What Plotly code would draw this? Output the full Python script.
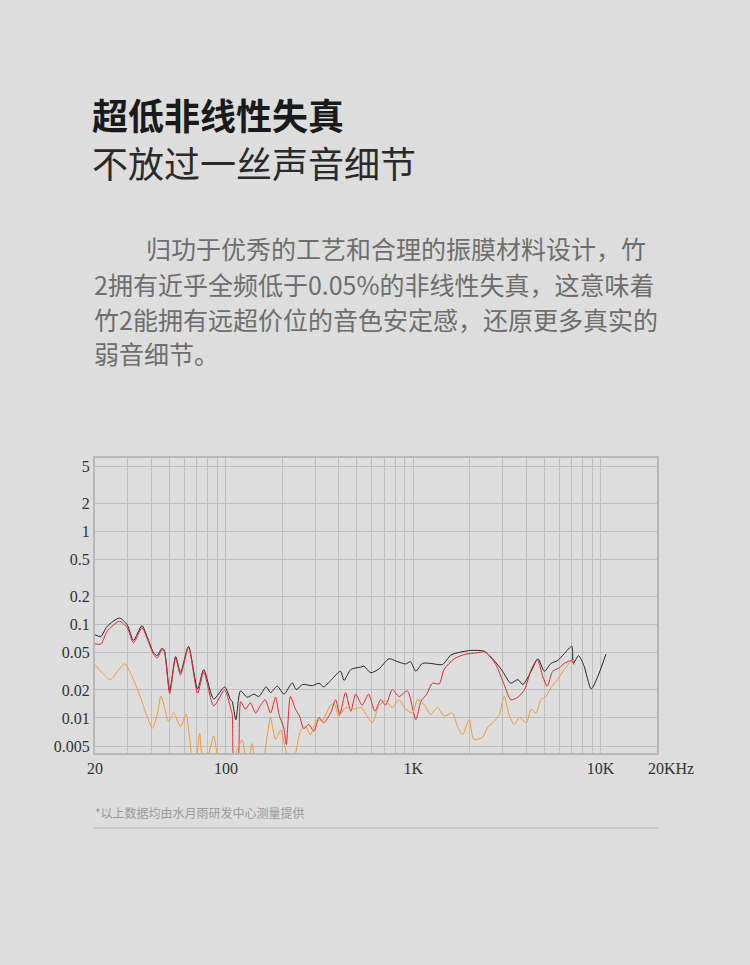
import plotly.graph_objects as go

# 频率 (Hz) / 失真 (%) —— 从原图读取
black_f = [20, 21.5, 23.2, 27, 29.7, 32.1, 35.6, 37.9, 41.1, 42.9,
           45.6, 46.9, 50.1, 53.9, 57.2, 63.1, 70.6, 76.1, 86.1, 98.5,
           105.7, 108, 113, 119.6, 129.8, 141, 149.8, 164, 173, 188,
           204, 226, 237, 257, 289, 314, 333, 366, 409, 427,
           464, 530, 545, 592, 657, 742, 807, 910, 965, 1032,
           1118, 1238, 1431, 1588, 1795, 2024, 2392, 2703, 2996, 3316,
           3617, 3850, 4258, 4628, 5017, 5432, 5895, 6395, 7020, 7150,
           7624, 8146, 8910, 9640, 10680]
black_v = [0.078, 0.075, 0.096, 0.118, 0.100, 0.068, 0.098, 0.075, 0.050, 0.0466,
           0.056, 0.053, 0.0198, 0.0457, 0.0308, 0.0586, 0.0205, 0.033, 0.016, 0.0215,
           0.0157, 0.0150, 0.0096, 0.0195, 0.0167, 0.018, 0.017, 0.0216, 0.0187, 0.0219,
           0.018, 0.0238, 0.0202, 0.0229, 0.0222, 0.0236, 0.0216, 0.0258, 0.0317, 0.0253,
           0.0331, 0.0353, 0.036, 0.0306, 0.0337, 0.0432, 0.0409, 0.038, 0.0403, 0.0317,
           0.0385, 0.0385, 0.0374, 0.0473, 0.051, 0.053, 0.052, 0.0413, 0.0317, 0.0236,
           0.0258, 0.0229, 0.0317, 0.0432, 0.0317, 0.0385, 0.0413, 0.049, 0.0587, 0.0385,
           0.0466, 0.0365, 0.0205, 0.0276, 0.0484]

red_f = [20, 21.5, 23.2, 27, 29.7, 32.1, 35.6, 37.9, 41.1, 42.9,
         45.6, 46.9, 50.1, 53.9, 57.2, 63.1, 70.6, 76.1, 86.1, 98.5,
         105.7, 108, 111, 115, 120, 127, 135, 144, 153, 162,
         173, 184, 192, 204, 210, 221, 235, 247, 260, 277,
         295, 314, 333, 362, 385, 405, 435, 464, 493, 533,
         577, 624, 670, 712, 773, 838, 930, 1032, 1100, 1180,
         1265, 1375, 1460, 1655, 1905, 2190, 2430, 2755, 3055, 3316,
         3617, 3930, 4258, 4590, 4920, 5187, 5547, 6013, 6395, 7020, 7220]
red_v = [0.0626, 0.062, 0.085, 0.109, 0.093, 0.064, 0.093, 0.072, 0.048, 0.044,
         0.054, 0.051, 0.0183, 0.044, 0.029, 0.057, 0.0185, 0.031, 0.0135, 0.020,
         0.013, 0.011, 0.003, 0.003, 0.015, 0.0124, 0.0145, 0.0113, 0.0137, 0.0157,
         0.0113, 0.0167, 0.0109, 0.0077, 0.0052, 0.017, 0.0124, 0.0105, 0.0077, 0.0085,
         0.0072, 0.0101, 0.0089, 0.0113, 0.0157, 0.0109, 0.0187, 0.0118, 0.018, 0.0137,
         0.018, 0.0118, 0.0157, 0.0137, 0.0202, 0.017, 0.0195, 0.0096, 0.0152, 0.018,
         0.0236, 0.0232, 0.0331, 0.0432, 0.0484, 0.050, 0.051, 0.0374, 0.0229, 0.0157,
         0.0167, 0.0202, 0.0331, 0.0422, 0.0276, 0.0219, 0.0317, 0.0345, 0.0385, 0.0413, 0.0374]

orange_f = [20, 22, 24.1, 26.5, 28.8, 31, 34.9, 37.5, 40.5, 43,
            45, 47, 49.3, 52.6, 57.2, 61.3, 64, 67, 70, 72.4,
            75, 80, 86, 90, 95, 105, 115, 122, 130, 138,
            145, 155, 166, 173, 184, 196, 208, 226, 250, 266,
            282, 307, 327, 355, 377, 400, 435, 473, 530, 553,
            604, 657, 712, 773, 838, 910, 990, 1054, 1150, 1238,
            1347, 1460, 1620, 1722, 1835, 1985, 2108, 2343, 2482, 2703,
            2882, 3055, 3245, 3460, 3683, 4010, 4258, 4520, 4800, 5100,
            5432, 5895, 6395, 6930, 7220]
orange_v = [0.0372, 0.030, 0.0258, 0.032, 0.0382, 0.030, 0.017, 0.011, 0.0078, 0.011,
            0.0171, 0.013, 0.0092, 0.0113, 0.0081, 0.011, 0.006, 0.003, 0.004, 0.0069,
            0.004, 0.004, 0.0064, 0.004, 0.003, 0.003, 0.0046, 0.0058, 0.003, 0.0053,
            0.003, 0.003, 0.0064, 0.0101, 0.0059, 0.0074, 0.0046, 0.003, 0.0072, 0.0081,
            0.0066, 0.0096, 0.0093, 0.0129, 0.0145, 0.0105, 0.0129, 0.0124, 0.0129, 0.0113,
            0.0089, 0.0137, 0.0152, 0.0129, 0.0157, 0.0124, 0.0113, 0.0157, 0.0137, 0.0109,
            0.013, 0.0105, 0.0113, 0.0081, 0.0066, 0.0096, 0.0059, 0.0062, 0.0078, 0.0092,
            0.0109, 0.017, 0.0109, 0.0085, 0.0101, 0.0089, 0.0124, 0.0113, 0.0157, 0.017,
            0.0212, 0.0258, 0.0331, 0.0403, 0.0413]

x_ticks = [20, 100, 1000, 10000]
x_labels = ["20", "100", "1K", "10K"]
x_minor = [30, 40, 50, 60, 70, 80, 90,
           200, 300, 400, 500, 600, 700, 800, 900,
           2000, 3000, 4000, 5000, 6000, 7000, 8000, 9000]
y_ticks = [5, 2, 1, 0.5, 0.2, 0.1, 0.05, 0.02, 0.01, 0.005]
y_labels = ["5", "2", "1", "0.5", "0.2", "0.1", "0.05", "0.02", "0.01", "0.005"]

title = "超低非线性失真"
subtitle = "不放过一丝声音细节"
body = ["归功于优秀的工艺和合理的振膜材料设计，竹",
        "2拥有近乎全频低于0.05%的非线性失真，这意味着",
        "竹2能拥有远超价位的音色安定感，还原更多真实的",
        "弱音细节。"]
note = "*以上数据均由水月雨研发中心测量提供"

W, H = 750, 965
BG = "#dcdddc"
CJK = "Noto Sans CJK SC"
SERIF = "Liberation Serif"


def px(x):
    return x / W


def py(y):
    return 1 - y / H


fig = go.Figure()
fig.add_trace(go.Scatter(x=black_f, y=black_v, mode="lines",
                         line=dict(color="#262626", width=1, shape="spline", smoothing=0.7)))
fig.add_trace(go.Scatter(x=red_f, y=red_v, mode="lines",
                         line=dict(color="#e52a33", width=1, shape="spline", smoothing=0.7)))
fig.add_trace(go.Scatter(x=orange_f, y=orange_v, mode="lines",
                         line=dict(color="#f29a38", width=1, shape="spline", smoothing=0.7)))

fig.update_xaxes(type="log", range=[1.30103, 4.30103], domain=[px(95), px(657)],
                 tickmode="array", tickvals=x_ticks, ticktext=x_labels, automargin=False,
                 showgrid=True, gridcolor="#bebebe", gridwidth=1,
                 minor=dict(tickmode="array", tickvals=x_minor, showgrid=True,
                            gridcolor="#bebebe", gridwidth=1, ticks=""),
                 showline=True, mirror=True, linecolor="#b8b8b8", linewidth=2,
                 ticks="", zeroline=False, tickfont=dict(family=SERIF, size=16, color="#333333"))
fig.update_yaxes(type="log", range=[-2.376, 0.790], domain=[py(753), py(458)],
                 tickmode="array", tickvals=y_ticks, ticktext=y_labels, automargin=False,
                 showgrid=True, gridcolor="#bebebe", gridwidth=1,
                 showline=True, mirror=True, linecolor="#b8b8b8", linewidth=2,
                 ticks="", zeroline=False, tickfont=dict(family=SERIF, size=16, color="#333333"))

ann = [
    dict(x=px(90), y=py(114), text="<b>" + title + "</b>", xanchor="left", yanchor="middle",
         font=dict(family=CJK, size=36, color="#1a1a1a")),
    dict(x=px(90), y=py(162), text=subtitle, xanchor="left", yanchor="middle",
         font=dict(family=CJK, size=36, color="#2a2a2a")),
    dict(x=px(671), y=py(768), text="20KHz", xanchor="center", yanchor="middle",
         font=dict(family=SERIF, size=16, color="#333333")),
    dict(x=px(93), y=py(812), text=note, xanchor="left", yanchor="middle",
         font=dict(family=CJK, size=12, color="#9a9a9a")),
]
body_x = [144, 92, 92, 92]
body_y = [248, 284, 319, 353]
for txt, bx, by in zip(body, body_x, body_y):
    ann.append(dict(x=px(bx), y=py(by), text=txt, xanchor="left", yanchor="middle",
                    font=dict(family=CJK, size=25, color="#6e6e6e")))
for a in ann:
    a.update(xref="paper", yref="paper", showarrow=False)

fig.update_layout(
    width=W, height=H, margin=dict(l=0, r=0, t=0, b=0, autoexpand=False),
    paper_bgcolor=BG, plot_bgcolor=BG, showlegend=False,
    annotations=ann,
    shapes=[dict(type="line", xref="paper", yref="paper", x0=px(94), x1=px(658),
                 y0=py(828), y1=py(828), line=dict(color="#c6c6c6", width=2))],
)

fig.write_html("out.html", config={"displayModeBar": False},
               post_script="document.body.style.margin='0';document.body.style.background='#dcdddc';")
